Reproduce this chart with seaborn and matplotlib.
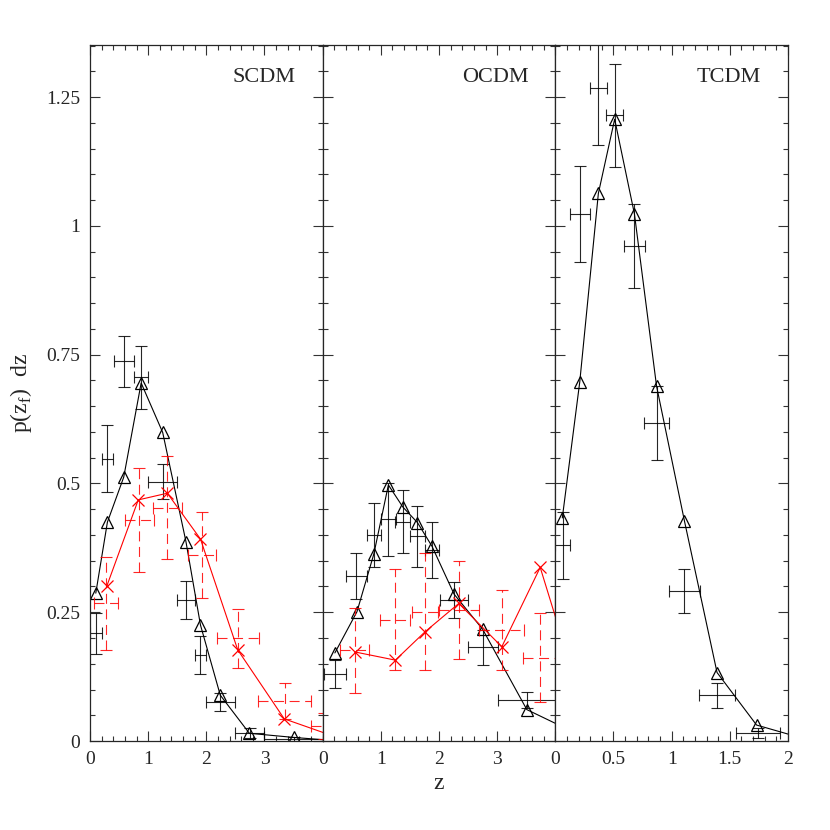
import numpy as np
import seaborn as sns
import matplotlib
matplotlib.use('Agg')
import matplotlib.pyplot as plt
from matplotlib.ticker import MultipleLocator, FuncFormatter

# SCDM: model (triangles), data (black crosses), red model (x) and red data (dashed)
scdm_mod_x = [0.10, 0.30, 0.58, 0.88, 1.25, 1.65, 1.90, 2.24, 2.74, 3.50, 4.30]
scdm_mod_y = [0.287, 0.425, 0.512, 0.695, 0.599, 0.387, 0.225, 0.089, 0.015, 0.007, 0.0]
scdm_dat_x = [0.10, 0.30, 0.58, 0.88, 1.25, 1.65, 1.90, 2.24, 2.75, 3.50]
scdm_dat_y = [0.209, 0.548, 0.737, 0.706, 0.503, 0.274, 0.167, 0.076, 0.016, 0.004]
scdm_dat_xerr = [0.10, 0.10, 0.17, 0.12, 0.25, 0.155, 0.10, 0.245, 0.25, 0.50]
scdm_dat_yerr = [0.040, 0.065, 0.050, 0.061, 0.034, 0.037, 0.036, 0.018, 0.010, 0.003]
scdm_red_x = [0.29, 0.83, 1.33, 1.90, 2.54, 3.34, 4.35]
scdm_red_y = [0.301, 0.468, 0.481, 0.392, 0.177, 0.043, 0.003]
scdm_rdat_x = [0.28, 0.85, 1.33, 1.93, 2.54, 3.35, 4.03]
scdm_rdat_y = [0.267, 0.429, 0.453, 0.361, 0.199, 0.078, 0.029]
scdm_rdat_xerr = [0.21, 0.245, 0.245, 0.245, 0.36, 0.455, 0.23]
scdm_rdat_yerr = [0.090, 0.100, 0.100, 0.084, 0.058, 0.035, 0.025]

# OCDM
ocdm_mod_x = [0.21, 0.59, 0.88, 1.13, 1.38, 1.63, 1.88, 2.26, 2.75, 3.51, 4.30]
ocdm_mod_y = [0.171, 0.251, 0.363, 0.497, 0.454, 0.424, 0.378, 0.285, 0.217, 0.061, 0.018]
ocdm_dat_x = [0.21, 0.58, 0.88, 1.13, 1.38, 1.63, 1.88, 2.26, 2.76, 3.51]
ocdm_dat_y = [0.130, 0.320, 0.400, 0.430, 0.426, 0.397, 0.371, 0.274, 0.182, 0.080]
ocdm_dat_xerr = [0.19, 0.185, 0.115, 0.13, 0.13, 0.125, 0.125, 0.245, 0.255, 0.50]
ocdm_dat_yerr = [0.027, 0.044, 0.062, 0.070, 0.061, 0.059, 0.054, 0.035, 0.034, 0.015]
ocdm_red_x = [0.55, 1.25, 1.76, 2.34, 3.08, 3.74, 4.25]
ocdm_red_y = [0.173, 0.157, 0.212, 0.267, 0.183, 0.337, 0.150]
ocdm_rdat_x = [0.55, 1.25, 1.76, 2.34, 3.08, 3.74]
ocdm_rdat_y = [0.176, 0.235, 0.251, 0.254, 0.215, 0.162]
ocdm_rdat_xerr = [0.25, 0.26, 0.22, 0.345, 0.39, 0.30]
ocdm_rdat_yerr = [0.083, 0.098, 0.114, 0.095, 0.078, 0.087]

# TCDM
tcdm_mod_x = [0.06, 0.21, 0.37, 0.51, 0.68, 0.87, 1.11, 1.39, 1.73, 2.10]
tcdm_mod_y = [0.433, 0.697, 1.063, 1.207, 1.023, 0.689, 0.427, 0.133, 0.031, 0.007]
tcdm_dat_x = [0.065, 0.21, 0.37, 0.51, 0.68, 0.87, 1.11, 1.39, 1.74]
tcdm_dat_y = [0.380, 1.023, 1.267, 1.215, 0.961, 0.617, 0.291, 0.089, 0.015]
tcdm_dat_xerr = [0.065, 0.085, 0.07, 0.075, 0.09, 0.105, 0.13, 0.155, 0.19]
tcdm_dat_yerr = [0.065, 0.093, 0.11, 0.10, 0.081, 0.072, 0.042, 0.024, 0.010]

panel_names = ['SCDM', 'OCDM', 'TCDM']
panel_xmax = [4, 4, 2]

sns.set_style('ticks')
plt.rcParams['font.family'] = ['Liberation Serif', 'DejaVu Serif']
plt.rcParams['mathtext.fontset'] = 'custom'
plt.rcParams['mathtext.rm'] = 'Liberation Serif'

fig = plt.figure(figsize=(8.3, 8.3), dpi=100)
axes = fig.subplots(1, 3, sharey=True)
fig.subplots_adjust(left=0.1084, right=0.9494, bottom=0.1072, top=0.9458, wspace=0)


def model_line(ax, x, y, color, marker):
    sns.lineplot(x=x, y=y, ax=ax, color=color, marker=marker, markersize=8.5,
                 markerfacecolor='none', markeredgecolor=color, markeredgewidth=0.9,
                 lw=0.8, sort=False, estimator=None)


def data_bars(ax, x, y, xerr, yerr, color, dashed=False):
    eb = ax.errorbar(x, y, xerr=xerr, yerr=yerr, fmt='none', ecolor=color,
                     elinewidth=0.8, capsize=4.5, capthick=0.8, alpha=0.85)
    if dashed:
        for lc in eb[2]:
            lc.set_linestyle((0, (9, 5)))


ax = axes[0]
model_line(ax, scdm_mod_x, scdm_mod_y, 'black', '^')
data_bars(ax, scdm_dat_x, scdm_dat_y, scdm_dat_xerr, scdm_dat_yerr, 'black')
model_line(ax, scdm_red_x, scdm_red_y, 'red', 'x')
data_bars(ax, scdm_rdat_x, scdm_rdat_y, scdm_rdat_xerr, scdm_rdat_yerr, 'red', dashed=True)

ax = axes[1]
model_line(ax, ocdm_mod_x, ocdm_mod_y, 'black', '^')
data_bars(ax, ocdm_dat_x, ocdm_dat_y, ocdm_dat_xerr, ocdm_dat_yerr, 'black')
model_line(ax, ocdm_red_x, ocdm_red_y, 'red', 'x')
data_bars(ax, ocdm_rdat_x, ocdm_rdat_y, ocdm_rdat_xerr, ocdm_rdat_yerr, 'red', dashed=True)

ax = axes[2]
model_line(ax, tcdm_mod_x, tcdm_mod_y, 'black', '^')
data_bars(ax, tcdm_dat_x, tcdm_dat_y, tcdm_dat_xerr, tcdm_dat_yerr, 'black')

fmt = FuncFormatter(lambda v, p: f'{v:g}')
for ax, name, xmax in zip(axes, panel_names, panel_xmax):
    ax.set_xlim(0, xmax)
    ax.set_ylim(0, 1.351)
    if xmax == 4:
        ax.set_xticks([0, 1, 2, 3])
        ax.xaxis.set_minor_locator(MultipleLocator(0.2))
    else:
        ax.set_xticks([0, 0.5, 1, 1.5, 2])
        ax.xaxis.set_minor_locator(MultipleLocator(0.1))
    ax.yaxis.set_major_locator(MultipleLocator(0.25))
    ax.yaxis.set_minor_locator(MultipleLocator(0.05))
    ax.xaxis.set_major_formatter(fmt)
    ax.yaxis.set_major_formatter(fmt)
    ax.tick_params(which='both', direction='in', top=True, right=True,
                   labelsize=14, width=0.8, color='#333333')
    ax.tick_params(which='major', length=7, pad=7)
    ax.tick_params(which='minor', length=3.5)
    for s in ax.spines.values():
        s.set_linewidth(0.9)
    ax.text(0.885, 0.953, name, transform=ax.transAxes, ha='right', va='center', fontsize=16)

axes[0].set_ylabel(r'p(z$_\mathrm{f}$)  dz', fontsize=17)
axes[0].yaxis.set_label_coords(-0.24, 0.5)
axes[1].set_xlabel('z', fontsize=17, labelpad=4)

fig.savefig('out.png', dpi=100)
